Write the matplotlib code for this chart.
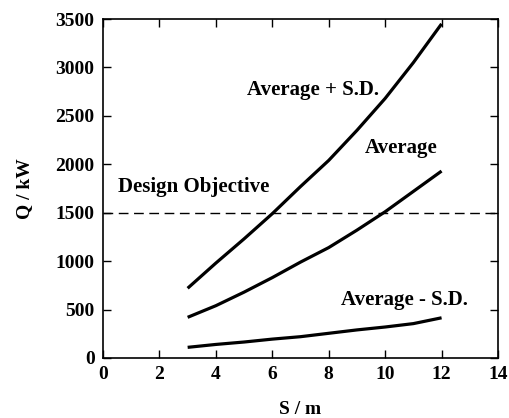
import matplotlib
matplotlib.use("Agg")
import matplotlib.pyplot as plt

S = [3, 4, 5, 6, 7, 8, 9, 10, 11, 12]
q_plus_sd = [720, 980, 1230, 1490, 1770, 2040, 2350, 2680, 3050, 3450]
q_avg = [420, 540, 680, 830, 990, 1140, 1320, 1510, 1720, 1930]
q_minus_sd = [110, 140, 165, 195, 220, 255, 290, 320, 355, 415]
design_objective = 1500

plt.rcParams['font.family'] = ['Liberation Serif', 'DejaVu Serif']
plt.rcParams['font.weight'] = 'bold'

fig = plt.figure(figsize=(5.10, 4.18), dpi=100)
ax = fig.add_axes([103/510, 1-358/418, (498-103)/510, (358-19)/418])

for y in (q_plus_sd, q_avg, q_minus_sd):
    ax.plot(S, y, color='black', lw=2.3, solid_capstyle='butt')
ax.axhline(design_objective, color='black', lw=1.0, dashes=(7, 4))

ax.set_xlim(0, 14)
ax.set_ylim(0, 3500)
ax.set_xticks(range(0, 15, 2))
ax.set_yticks(range(0, 3501, 500))
ax.tick_params(direction='in', top=True, right=True, length=6, width=1,
               labelsize=14, pad=6)
for lab in ax.get_xticklabels() + ax.get_yticklabels():
    lab.set_fontweight('bold')
for sp in ax.spines.values():
    sp.set_linewidth(1.2)

ax.set_xlabel('S / m', fontsize=14, fontweight='bold', labelpad=13)
ax.set_ylabel('Q / kW', fontsize=14, fontweight='bold', labelpad=16)

kw = dict(fontsize=15, fontweight='bold', ha='center', va='center')
ax.text(7.45, 2765, 'Average + S.D.', **kw)
ax.text(10.57, 2167, 'Average', **kw)
ax.text(3.23, 1765, 'Design Objective', **kw)
ax.text(10.7, 600, 'Average - S.D.', **kw)

fig.savefig('out.png', dpi=100)
